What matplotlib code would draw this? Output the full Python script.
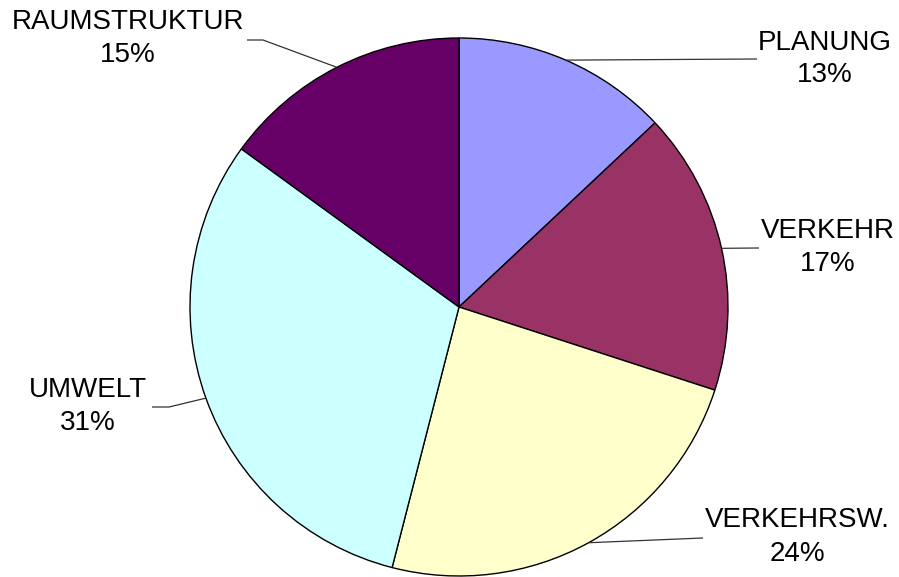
import numpy as np
import matplotlib
matplotlib.use('Agg')
import matplotlib.pyplot as plt

plt.rcParams['font.family'] = ['Liberation Sans', 'DejaVu Sans']

# data
categories = ['PLANUNG', 'VERKEHR', 'VERKEHRSW.', 'UMWELT', 'RAUMSTRUKTUR']
shares = [13, 17, 24, 31, 15]
colors = ['#9999FF', '#993366', '#FFFFCC', '#CCFFFF', '#660066']

# layout in pixel units (y measured from top of the image)
W, H = 899, 577
cx, cy, r = 459, 307, 269
label_pos = [(825, 43, 75), (828, 231, 264), (797, 520, 554), (88, 390, 423), (128, 22, 55)]
elbows = [[(757, 59)], [(759, 248)], [(703, 538)], [(152, 407), (169, 407)], [(247, 40), (263, 40)]]

fig = plt.figure(figsize=(W / 100, H / 100), dpi=100)
ax = fig.add_axes([0, 0, 1, 1])

wedges, _ = ax.pie(shares, colors=colors, startangle=90, counterclock=False,
                   center=(cx, H - cy), radius=r, frame=True,
                   wedgeprops=dict(edgecolor='black', linewidth=1.0))
ax.set_xlim(0, W)
ax.set_ylim(0, H)
ax.set_aspect('equal')
ax.axis('off')

total = sum(shares)
for w, name, val, (tx, ty1, ty2), pts in zip(wedges, categories, shares, label_pos, elbows):
    mid = np.deg2rad((w.theta1 + w.theta2) / 2)
    ex = cx + r * np.cos(mid)
    ey = (H - cy) + r * np.sin(mid)
    xs = [p[0] for p in pts] + [ex]
    ys = [H - p[1] for p in pts] + [ey]
    ax.plot(xs, ys, color='#333333', linewidth=0.9, solid_capstyle='butt')
    ax.text(tx, H - ty1, name, ha='center', va='center', fontsize=20, color='black')
    ax.text(tx, H - ty2, f'{round(100 * val / total)}%', ha='center', va='center',
            fontsize=20, color='black')

fig.savefig('out.png', dpi=100)
